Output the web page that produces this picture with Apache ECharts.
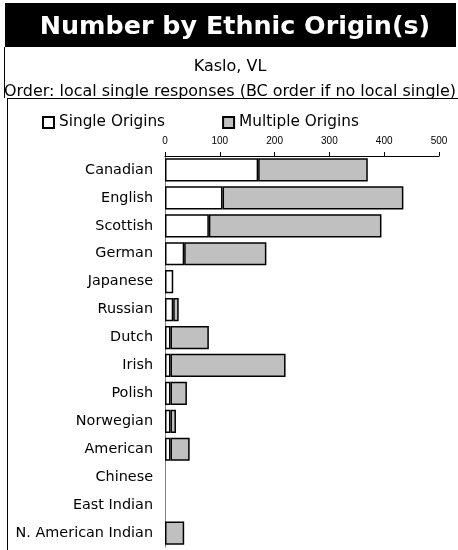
<!DOCTYPE html>
<html>
<head>
<meta charset="utf-8">
<script src="https://cdn.jsdelivr.net/npm/echarts@6/dist/echarts.min.js"></script>
<style>
  html, body { margin: 0; padding: 0; background: #fff; }
  #chart { width: 458px; height: 550px; }
</style>
</head>
<body>
<div id="chart"></div>
<script>
const categories = ['Canadian', 'English', 'Scottish', 'German', 'Japanese', 'Russian', 'Dutch', 'Irish', 'Polish', 'Norwegian', 'American', 'Chinese', 'East Indian', 'N. American Indian'];
const singleOrigins = [170, 105, 80, 35, 15, 15, 10, 10, 10, 10, 10, 0, 0, 0];
const multipleOrigins = [200, 330, 315, 150, 0, 10, 70, 210, 30, 10, 35, 0, 0, 35];
const axisTicks = [0, 100, 200, 300, 400, 500];

const FONT = 'DejaVu Sans';
const toBar = v => (v === 0 ? null : v);

const chart = echarts.init(document.getElementById('chart'), null, { renderer: 'canvas' });
chart.setOption({
  backgroundColor: '#fff',
  animation: false,
  graphic: [
    { type: 'rect', z: -10, shape: { x: 5, y: 3, width: 451, height: 44 }, style: { fill: '#000' } },
    { type: 'line', z: -10, shape: { x1: 4.5, y1: 47, x2: 4.5, y2: 98 }, style: { stroke: '#000', lineWidth: 1 } },
    { type: 'line', z: -10, shape: { x1: 7, y1: 98.5, x2: 458, y2: 98.5 }, style: { stroke: '#000', lineWidth: 1 } },
    { type: 'line', z: -10, shape: { x1: 7.5, y1: 98, x2: 7.5, y2: 550 }, style: { stroke: '#000', lineWidth: 1 } }
  ],
  title: [
    { text: 'Number by Ethnic Origin(s)', left: 230, top: 10, textAlign: 'center',
      textStyle: { color: '#fff', fontFamily: FONT, fontWeight: 'bold', fontSize: 25.4 } },
    { text: 'Kaslo, VL', left: 225, top: 54, textAlign: 'center',
      textStyle: { color: '#000', fontFamily: FONT, fontWeight: 'normal', fontSize: 16 } },
    { text: 'Order: local single responses (BC order if no local single)', left: 225, top: 79, textAlign: 'center',
      textStyle: { color: '#000', fontFamily: FONT, fontWeight: 'normal', fontSize: 15.95 } }
  ],
  legend: {
    left: 42, top: 115, padding: 0,
    itemWidth: 11, itemHeight: 11, itemGap: 57,
    icon: 'rect',
    textStyle: { color: '#000', fontFamily: FONT, fontSize: 15.3 },
    data: ['Single Origins', 'Multiple Origins']
  },
  grid: { left: 165, right: 19, top: 156, bottom: 3, containLabel: false },
  xAxis: {
    type: 'value', position: 'top', min: axisTicks[0], max: axisTicks[axisTicks.length - 1], interval: 100,
    axisLine: { show: true, lineStyle: { color: '#000', width: 1 } },
    axisTick: { show: true, length: 4, lineStyle: { color: '#000' } },
    axisLabel: { color: '#000', fontFamily: 'Liberation Sans', fontSize: 10, margin: 10 },
    splitLine: { show: false }
  },
  yAxis: {
    type: 'category', inverse: true, data: categories,
    axisLine: { show: true, lineStyle: { color: '#808080', width: 1 } },
    axisTick: { show: false },
    axisLabel: { color: '#000', fontFamily: FONT, fontSize: 14.4, margin: 12 }
  },
  series: [
    { name: 'Single Origins', type: 'bar', stack: 'total', barCategoryGap: '17%',
      itemStyle: { color: '#ffffff', borderColor: '#000', borderWidth: 1.5 },
      data: singleOrigins.map(toBar) },
    { name: 'Multiple Origins', type: 'bar', stack: 'total', barCategoryGap: '17%',
      itemStyle: { color: '#c0c0c0', borderColor: '#000', borderWidth: 1.5 },
      data: multipleOrigins.map(toBar) }
  ]
});
</script>
</body>
</html>
